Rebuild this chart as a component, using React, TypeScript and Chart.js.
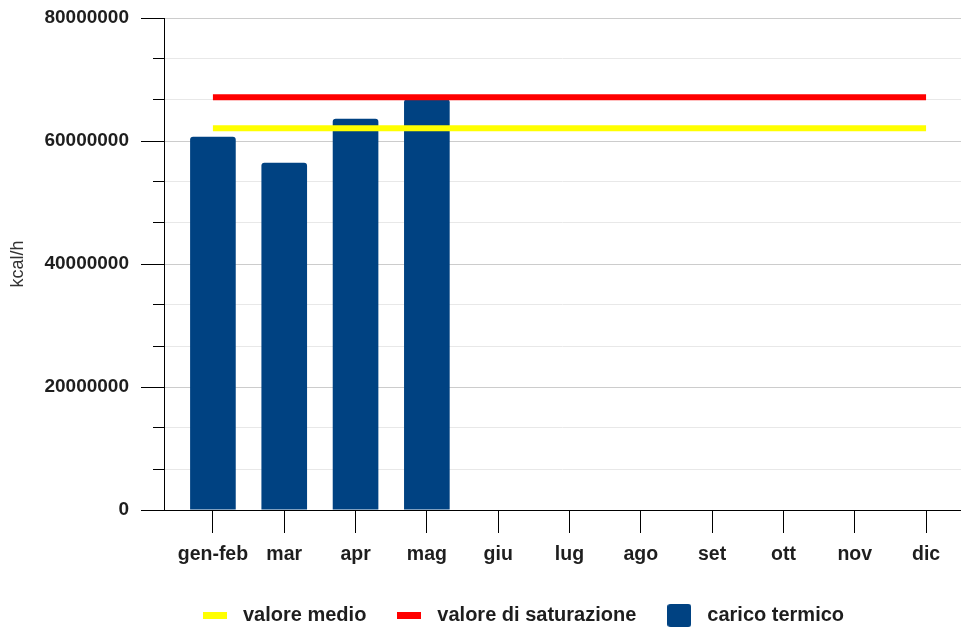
import React, { useEffect, useRef } from 'react';
import { Chart, registerables } from 'chart.js';

Chart.register(...registerables);

// ---- data ----
const CATEGORIES = ['gen-feb', 'mar', 'apr', 'mag', 'giu', 'lug', 'ago', 'set', 'ott', 'nov', 'dic'];
const CARICO_TERMICO = [60700000, 56450000, 63600000, 66800000];
const VALORE_MEDIO = 62070000;
const VALORE_SATURAZIONE = 67100000;
const SERIES_LABELS = ['valore medio', 'valore di saturazione', 'carico termico'];
const Y_TITLE = 'kcal/h';
const Y_MIN = 0;
const Y_MAX = 80000000;
const Y_MAJOR_STEP = 20000000;
const Y_MINOR_DIVISIONS = 12;

// ---- styles ----
const COLOR_MEDIO = '#ffff00';
const COLOR_SAT = '#ff0000';
const COLOR_BAR = '#004282';
const TEXT = '#1e1e1e';
const FONT = '"Liberation Sans", Arial, Helvetica, sans-serif';

function makeSwatch(w: number, h: number, color: string, r = 0): HTMLCanvasElement {
  const c = document.createElement('canvas');
  c.width = w;
  c.height = h;
  const ctx = c.getContext('2d')!;
  ctx.fillStyle = color;
  if (r > 0 && (ctx as any).roundRect) {
    ctx.beginPath();
    (ctx as any).roundRect(0, 0, w, h, r);
    ctx.fill();
  } else {
    ctx.fillRect(0, 0, w, h);
  }
  return c;
}

const legendOffset = {
  id: 'legendOffset',
  afterLayout(chart: any) {
    const l = chart.legend;
    if (!l) return;
    const dx = 40;
    const dy = 7.5;
    l.left += dx;
    l.right += dx;
    l.top += dy;
    l.bottom += dy;
  },
};

export default function App() {
  const ref = useRef<HTMLCanvasElement | null>(null);

  useEffect(() => {
    if (!ref.current) return;
    Chart.defaults.font.family = FONT;
    const swatches = [
      makeSwatch(24, 7, COLOR_MEDIO),
      makeSwatch(24, 7, COLOR_SAT),
      makeSwatch(24, 23, COLOR_BAR, 3),
    ];
    const swatchColors = [COLOR_MEDIO, COLOR_SAT, COLOR_BAR];
    const lastIndex = CATEGORIES.length - 1;

    const chart = new Chart(ref.current, {
      type: 'bar',
      data: {
        datasets: [
          {
            type: 'line',
            label: SERIES_LABELS[0],
            data: [
              { x: 0, y: VALORE_MEDIO },
              { x: lastIndex, y: VALORE_MEDIO },
            ],
            borderColor: COLOR_MEDIO,
            backgroundColor: COLOR_MEDIO,
            borderWidth: 6,
            pointRadius: 0,
            borderCapStyle: 'butt',
            yAxisID: 'y',
            xAxisID: 'x',
          } as any,
          {
            type: 'line',
            label: SERIES_LABELS[1],
            data: [
              { x: 0, y: VALORE_SATURAZIONE },
              { x: lastIndex, y: VALORE_SATURAZIONE },
            ],
            borderColor: COLOR_SAT,
            backgroundColor: COLOR_SAT,
            borderWidth: 6,
            pointRadius: 0,
            borderCapStyle: 'butt',
            yAxisID: 'y',
            xAxisID: 'x',
          } as any,
          {
            type: 'bar',
            label: SERIES_LABELS[2],
            data: CARICO_TERMICO.map((v, i) => ({ x: i, y: v })),
            backgroundColor: COLOR_BAR,
            borderRadius: 3,
            barPercentage: 0.64,
            categoryPercentage: 1,
            yAxisID: 'y',
            xAxisID: 'x',
          } as any,
        ],
      },
      options: {
        animation: false,
        responsive: false,
        events: [],
        layout: { padding: 0 },
        scales: {
          x: {
            type: 'linear',
            offset: false,
            min: -0.686,
            max: 10.49,
            afterBuildTicks: (s: any) => {
              s.ticks = CATEGORIES.map((_, i) => ({ value: i }));
            },
            afterFit: (s: any) => {
              s.height = 63;
            },
            ticks: {
              autoSkip: false,
              maxRotation: 0,
              padding: 10,
              color: TEXT,
              font: { size: 19.5, weight: 'bold' },
              callback: (v: any) => CATEGORIES[v as number] ?? '',
            },
            grid: {
              offset: false,
              drawOnChartArea: false,
              tickLength: 23,
              tickColor: '#000',
            },
            border: { color: '#000', width: 1 },
          },
          y: {
            type: 'linear',
            position: 'left',
            weight: 1,
            min: Y_MIN,
            max: Y_MAX,
            afterFit: (s: any) => {
              s.width = 164;
              s.paddingTop = 18;
            },
            ticks: {
              stepSize: Y_MAJOR_STEP,
              padding: 12,
              color: TEXT,
              font: { size: 19, weight: 'bold' },
              callback: (v: any) => String(v),
            },
            grid: {
              color: '#cccccc',
              tickColor: '#000',
              tickLength: 23,
            },
            border: { color: '#000', width: 1 },
            title: {
              display: true,
              text: Y_TITLE,
              color: '#333',
              font: { size: 18, weight: 'normal' },
              padding: { top: 7.7, bottom: 4 },
            },
          },
          yMinor: {
            type: 'linear',
            position: 'left',
            weight: 0,
            min: Y_MIN,
            max: Y_MAX,
            afterBuildTicks: (s: any) => {
              const step = (Y_MAX - Y_MIN) / Y_MINOR_DIVISIONS;
              s.ticks = Array.from({ length: Y_MINOR_DIVISIONS + 1 }, (_, i) => ({ value: Y_MIN + i * step }));
            },
            afterFit: (s: any) => {
              s.width = 0;
              s.paddingTop = 0;
            },
            ticks: { display: false },
            grid: {
              drawOnChartArea: true,
              color: (c: any) => (c.index % 3 === 0 ? 'rgba(0,0,0,0)' : '#e8e8e8'),
              tickColor: (c: any) => (c.index % 3 === 0 ? 'rgba(0,0,0,0)' : '#000'),
              tickLength: 11,
            },
            border: { display: false },
          },
        },
        plugins: {
          tooltip: { enabled: false },
          legend: {
            position: 'bottom',
            labels: {
              usePointStyle: true,
              pointStyleWidth: 36,
              padding: 25,
              color: TEXT,
              font: { size: 20, weight: 'bold' },
              generateLabels: (ch: any) =>
                ch.data.datasets.map((ds: any, i: number) => ({
                  text: ds.label,
                  pointStyle: swatches[i],
                  fillStyle: swatchColors[i],
                  strokeStyle: 'rgba(0,0,0,0)',
                  lineWidth: 0,
                  hidden: false,
                  fontColor: TEXT,
                  datasetIndex: i,
                })),
            },
          },
        },
      } as any,
      plugins: [legendOffset],
    });

    return () => chart.destroy();
  }, []);

  return (
    <div style={{ position: 'fixed', left: 0, top: 0, width: 961, height: 628, overflow: 'hidden', background: '#fff' }}>
      <canvas ref={ref} width={961} height={628} style={{ display: 'block' }} />
    </div>
  );
}
